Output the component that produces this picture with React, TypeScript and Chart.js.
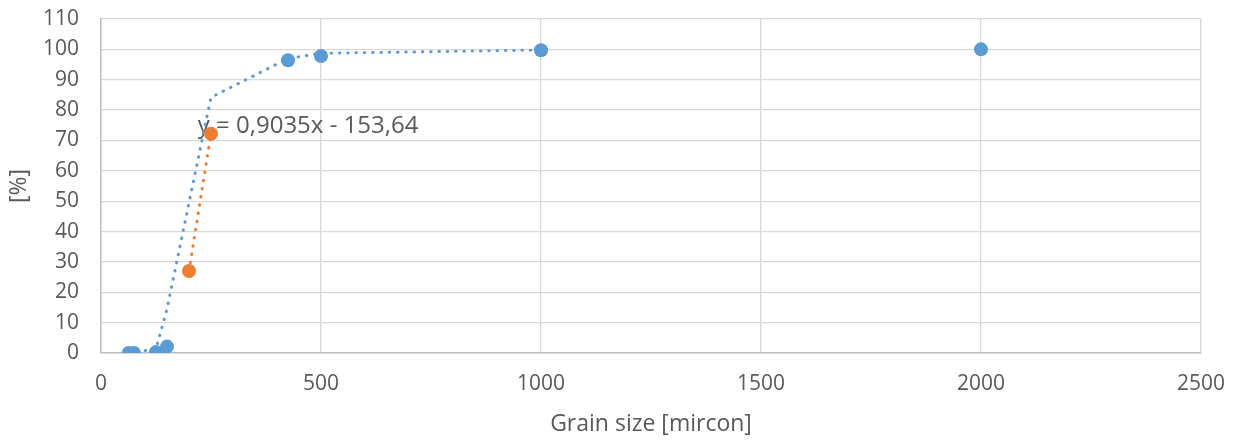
import React, { useEffect, useRef } from "react";
import { Chart, registerables } from "chart.js";

Chart.register(...registerables);

// Measured points (blue series)
const blueX = [63, 75, 125, 150, 425, 500, 1000, 2000];
const blueY = [0, 0, 0.3, 2.1, 96.4, 97.8, 99.7, 100];

// Orange series
const orangeX = [200, 250];
const orangeY = [27.0, 72.2];

// Blue moving-average trendline
const blueTrendX = [63, 75, 125, 150, 200, 250, 425, 500, 1000];
const blueTrendY = [0, 0.3, 1.3, 14.5, 49.5, 84.2, 97.0, 98.7, 99.8];

// Orange linear trendline end points (y = 0,9035x - 153,64)
const orangeTrendX = [200, 250];
const orangeTrendY = [27.06, 72.24];

const xTicks = [0, 500, 1000, 1500, 2000, 2500];
const yTicks = [0, 10, 20, 30, 40, 50, 60, 70, 80, 90, 100, 110];

const equationText = "y = 0,9035x - 153,64";
const equationAt = { x: 220, y: 72.5 };

const BLUE = "#5B9BD5";
const ORANGE = "#ED7D31";
const TEXT = "#595959";
const FONT = "'Open Sans'";
const TICK_FS = 21;
const TITLE_FS = 23;
const EQ_FS = 24;

const toPts = (xs: number[], ys: number[]) => xs.map((x, i) => ({ x, y: ys[i] }));

export default function App() {
  const ref = useRef<HTMLCanvasElement | null>(null);

  useEffect(() => {
    if (!ref.current) return;
    const labelPlugin = {
      id: "eqLabel",
      beforeDatasetsDraw(chart: any) {
        const { ctx, scales } = chart;
        const px = scales.x.getPixelForValue(equationAt.x);
        const py = scales.y.getPixelForValue(equationAt.y);
        ctx.save();
        ctx.font = `${EQ_FS}px ${FONT}`;
        ctx.fillStyle = TEXT;
        ctx.textAlign = "left";
        ctx.textBaseline = "alphabetic";
        ctx.fillText(equationText, px, py);
        ctx.restore();
      },
    };

    const dotted = {
      pointRadius: 0,
      showLine: true,
      borderWidth: 3,
      borderDash: [0.5, 7.8],
      borderCapStyle: "round" as const,
      fill: false,
      tension: 0,
    };

    const chart = new Chart(ref.current, {
      type: "scatter",
      data: {
        datasets: [
          {
            data: toPts(orangeX, orangeY),
            backgroundColor: ORANGE,
            borderWidth: 0,
            pointRadius: 7,
          },
          {
            data: toPts(blueX, blueY),
            backgroundColor: BLUE,
            borderWidth: 0,
            pointRadius: 7,
          },
          { data: toPts(orangeTrendX, orangeTrendY), borderColor: ORANGE, ...dotted },
          { data: toPts(blueTrendX, blueTrendY), borderColor: BLUE, ...dotted },
        ],
      },
      options: {
        responsive: false,
        animation: false,
        events: [],
        layout: { padding: { top: 19, right: 36, left: 0, bottom: 0 } },
        plugins: { legend: { display: false }, tooltip: { enabled: false } },
        scales: {
          x: {
            type: "linear",
            min: 0,
            max: 2500,
            afterBuildTicks: (s: any) => {
              s.ticks = xTicks.map((v) => ({ value: v }));
            },
            afterFit: (s: any) => {
              s.height = 88;
            },
            grid: {
              color: "#D9D9D9",
              lineWidth: 1.3,
              drawTicks: true,
              tickLength: 18,
              tickColor: "rgba(0,0,0,0)",
            },
            border: { color: "#BFBFBF", width: 1.5 },
            ticks: {
              color: TEXT,
              font: { family: FONT, size: TICK_FS },
              padding: 0,
              maxRotation: 0,
              callback: (v: any) => String(v),
            },
            title: {
              display: true,
              text: "Grain size [mircon]",
              color: TEXT,
              font: { family: FONT, size: TITLE_FS },
              padding: { top: 0, bottom: 3 },
            },
          },
          y: {
            type: "linear",
            min: 0,
            max: 110,
            afterBuildTicks: (s: any) => {
              s.ticks = yTicks.map((v) => ({ value: v }));
            },
            afterFit: (s: any) => {
              s.width = 101;
            },
            grid: {
              color: "#D9D9D9",
              lineWidth: 1.3,
              drawTicks: true,
              tickLength: 22,
              tickColor: "rgba(0,0,0,0)",
            },
            border: { color: "#BFBFBF", width: 1.5 },
            ticks: {
              color: TEXT,
              font: { family: FONT, size: TICK_FS },
              padding: 0,
              callback: (v: any) => String(v),
            },
            title: {
              display: true,
              text: "[%]",
              color: TEXT,
              font: { family: FONT, size: TITLE_FS },
              padding: { top: 6, bottom: 0 },
            },
          },
        },
      },
      plugins: [labelPlugin],
    } as any);

    return () => chart.destroy();
  }, []);

  return (
    <div style={{ position: "fixed", left: 0, top: 0, width: 1237, height: 441, background: "#fff" }}>
      <canvas ref={ref} width={1237} height={441} style={{ display: "block" }} />
    </div>
  );
}
